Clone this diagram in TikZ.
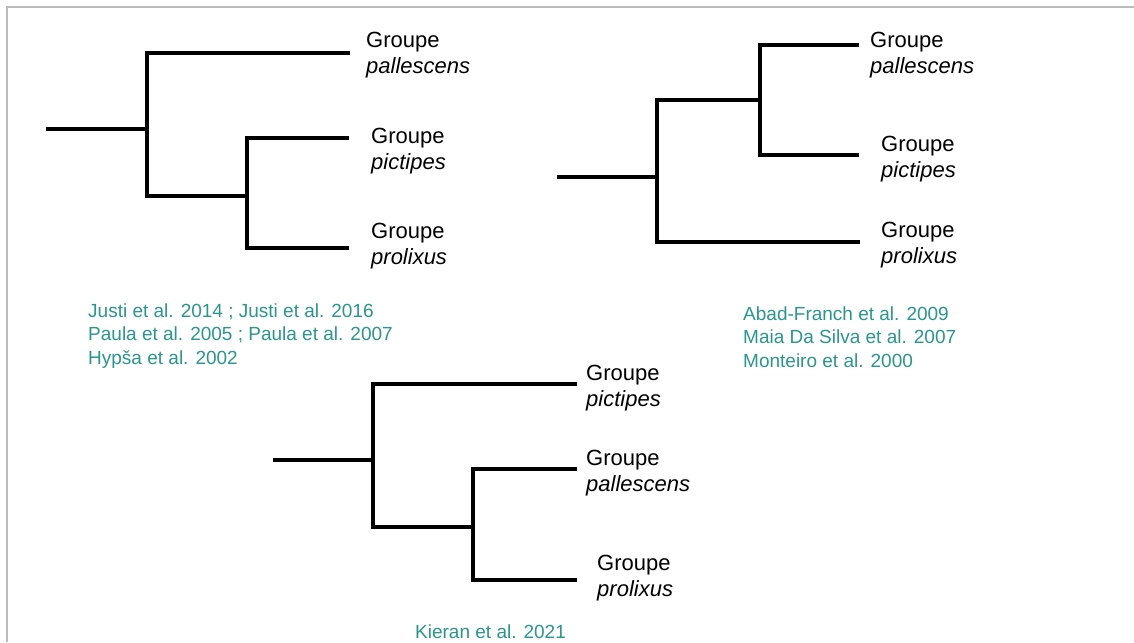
\documentclass[tikz,border=0pt]{standalone}
\usepackage{fontspec}
\setmainfont{Liberation Sans}
\definecolor{cite}{HTML}{2A968C}
\definecolor{frame}{HTML}{BBBBBB}
\tikzset{
  br/.style={line width=3.4pt, black, line cap=rect, line join=miter},
  grp/.style={anchor=base west, inner sep=0pt, align=left,
    font=\fontsize{22}{26}\selectfont},
  ref/.style={anchor=base west, inner sep=0pt, align=left, text=cite,
    font=\fontsize{19}{23.3}\selectfont},
}
\begin{document}
\begin{tikzpicture}[x=1pt,y=-1pt]
\useasboundingbox (0,0) rectangle (1134,642);
\fill[white] (0,0) rectangle (1134,642);
\draw[frame, line width=2.2pt] (7,642) -- (7,7) -- (1134,7);

% ---------- Tree 1 ----------
\coordinate (r1) at (48,129);
\coordinate (n1) at (147,129);
\coordinate (n1t) at (147,53);
\coordinate (n1b) at (147,196);
\coordinate (m1) at (247,196);
\coordinate (m1t) at (247,138);
\coordinate (m1b) at (247,248);
\coordinate (t1a) at (348,53);
\coordinate (t1b) at (347,138);
\coordinate (t1c) at (347,248);
\draw[br] (r1) -- (n1);
\draw[br] (t1a) -- (n1t) -- (n1b) -- (m1);
\draw[br] (t1b) -- (m1t) -- (m1b) -- (t1c);
\node[grp] (l1a) at (366,74) {Groupe\\\textit{pallescens}};
\node[grp] (l1b) at (371,169) {Groupe\\\textit{pictipes}};
\node[grp] (l1c) at (371,264) {Groupe\\\textit{prolixus}};
\node[ref] (c1) at (88,364) {Justi et al. 2014 ; Justi et al. 2016\\Paula et al. 2005 ; Paula et al. 2007\\Hypša et al. 2002};

% ---------- Tree 2 ----------
\coordinate (r2) at (559,177);
\coordinate (n2) at (657,177);
\coordinate (n2t) at (657,100);
\coordinate (n2b) at (657,242);
\coordinate (m2) at (760,100);
\coordinate (m2t) at (760,45);
\coordinate (m2b) at (760,155);
\coordinate (t2a) at (857,45);
\coordinate (t2b) at (857,155);
\coordinate (t2c) at (858,242);
\draw[br] (r2) -- (n2);
\draw[br] (t2c) -- (n2b) -- (n2t) -- (m2);
\draw[br] (t2a) -- (m2t) -- (m2b) -- (t2b);
\node[grp] (l2a) at (870,74) {Groupe\\\textit{pallescens}};
\node[grp] (l2b) at (881,177) {Groupe\\\textit{pictipes}};
\node[grp] (l2c) at (881,263) {Groupe\\\textit{prolixus}};
\node[ref] (c2) at (743,367) {Abad-Franch et al. 2009\\Maia Da Silva et al. 2007\\Monteiro et al. 2000};

% ---------- Tree 3 ----------
\coordinate (r3) at (275,460);
\coordinate (n3) at (373,460);
\coordinate (n3t) at (373,384);
\coordinate (n3b) at (373,527);
\coordinate (m3) at (473,527);
\coordinate (m3t) at (473,469);
\coordinate (m3b) at (473,580);
\coordinate (t3a) at (575,384);
\coordinate (t3b) at (575,469);
\coordinate (t3c) at (575,580);
\draw[br] (r3) -- (n3);
\draw[br] (t3a) -- (n3t) -- (n3b) -- (m3);
\draw[br] (t3b) -- (m3t) -- (m3b) -- (t3c);
\node[grp] (l3a) at (586,406) {Groupe\\\textit{pictipes}};
\node[grp] (l3b) at (586,491) {Groupe\\\textit{pallescens}};
\node[grp] (l3c) at (597,596) {Groupe\\\textit{prolixus}};
\node[ref] (c3) at (415,638) {Kieran et al. 2021};
\end{tikzpicture}
\end{document}
